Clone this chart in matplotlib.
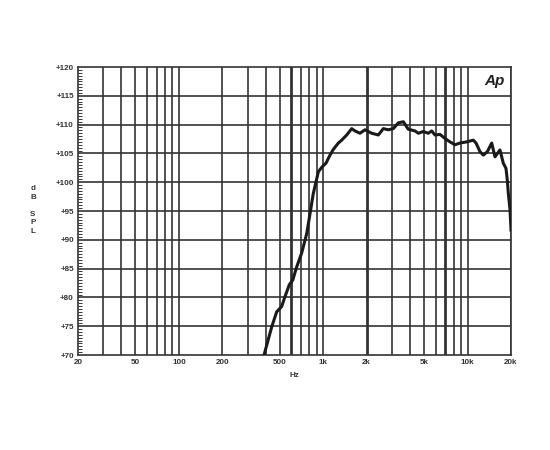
import matplotlib
matplotlib.use("Agg")
import matplotlib.pyplot as plt
from matplotlib.ticker import FixedLocator, NullFormatter, MultipleLocator

freq_hz = [389, 440, 476, 515, 543, 582, 615, 655, 709, 769, 811, 853, 925, 977,
           1045, 1114, 1175, 1273, 1343, 1455, 1575, 1660, 1798, 1946, 2166, 2410,
           2608, 2825, 3060, 3314, 3590, 3882, 4325, 4560, 4935, 5345, 5645, 5945,
           6440, 6975, 7555, 8185, 8865, 9860, 10960, 11450, 12200, 12860, 13710,
           14700, 15490, 16770, 17690, 18460, 18850, 19160, 19690, 20000]
spl_db = [70.0, 74.9, 77.5, 78.4, 80.1, 82.2, 83.0, 85.3, 87.7, 91.1, 94.6, 98.0,
          101.8, 102.6, 103.3, 104.7, 105.7, 106.8, 107.3, 108.2, 109.3, 108.9,
          108.5, 109.1, 108.5, 108.2, 109.3, 109.1, 109.3, 110.3, 110.5, 109.2,
          108.9, 108.5, 108.8, 108.5, 108.9, 108.2, 108.3, 107.6, 107.0, 106.5,
          106.8, 107.0, 107.3, 106.8, 105.3, 104.7, 105.3, 106.8, 104.4, 105.6,
          103.3, 102.4, 100.4, 98.1, 95.2, 91.7]

x_ticks = [20, 50, 100, 200, 500, 1000, 2000, 5000, 10000, 20000]
x_labels = ["20", "50", "100", "200", "500", "1k", "2k", "5k", "10k", "20k"]
x_grid = [30, 40, 50, 60, 70, 80, 90, 100, 200, 300, 400, 500, 600, 700, 800, 900,
          1000, 2000, 3000, 4000, 5000, 6000, 7000, 8000, 9000, 10000, 20000]
thick_grid = [600, 2000, 7000]
y_ticks = [70, 75, 80, 85, 90, 95, 100, 105, 110, 115, 120]
y_labels = ["+70", "+75", "+80", "+85", "+90", "+95", "+100", "+105", "+110", "+115", "+120"]

plt.rcParams['font.family'] = ['Liberation Sans', 'DejaVu Sans']
fig = plt.figure(figsize=(5.5, 4.5), dpi=100)
ax = fig.add_axes([78/550, 1-355/450, (511-78)/550, (355-67)/450])
ax.set_xscale('log')
ax.set_xlim(20, 20000)
ax.set_ylim(70, 120)

gc = '#333333'
for f in x_grid:
    ax.axvline(f, color=gc, lw=2.0 if f in thick_grid else 1.2, zorder=1)
for y in y_ticks[1:-1]:
    ax.axhline(y, color=gc, lw=1.2, zorder=1)

ax.plot(freq_hz, spl_db, color='#1a1a1a', lw=2.2, zorder=3, solid_joinstyle='round')

ax.xaxis.set_major_locator(FixedLocator(x_ticks))
ax.set_xticklabels(x_labels)
ax.xaxis.set_minor_locator(FixedLocator([]))
ax.xaxis.set_minor_formatter(NullFormatter())
ax.set_yticks(y_ticks)
ax.set_yticklabels(y_labels)
ax.yaxis.set_minor_locator(MultipleLocator(0.5))
ax.tick_params(axis='both', which='major', length=0, labelsize=5.8, pad=3)
ax.tick_params(axis='y', which='minor', direction='in', length=3, width=0.7, color=gc)
for lbl in ax.get_xticklabels() + ax.get_yticklabels():
    lbl.set_fontweight('bold')
    lbl.set_color('#333333')
for s in ax.spines.values():
    s.set_color(gc)
    s.set_linewidth(1.2)

ax.set_xlabel("Hz", fontsize=5.8, fontweight='bold', color='#333333', labelpad=4)
fig.text(33/550, 1-210/450, "d\nB\n\nS\nP\nL", fontsize=5.8, fontweight='bold',
         color='#333333', ha='center', va='center', linespacing=1.3)
ax.text(0.985, 0.975, "Ap", transform=ax.transAxes, ha='right', va='top',
        fontsize=11, fontweight='bold', fontstyle='italic', color='#222222')

fig.savefig("out.png", dpi=100)
